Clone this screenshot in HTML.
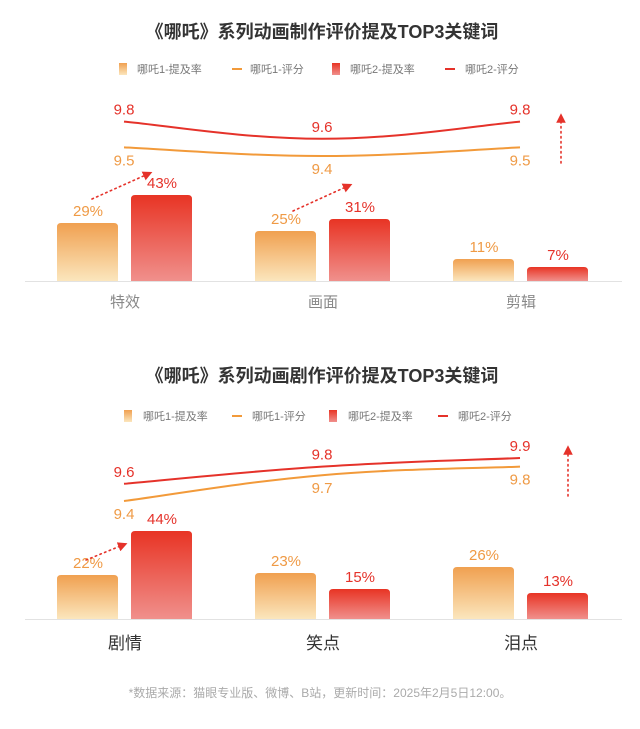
<!DOCTYPE html>
<html><head><meta charset="utf-8"><style>
html,body{margin:0;padding:0;background:#fff;}
svg{display:block;font-family:"Liberation Sans","Noto Sans CJK SC",sans-serif;}
</style></head><body>
<svg id="chart" width="640" height="729" viewBox="0 0 640 729" xmlns="http://www.w3.org/2000/svg">
<defs>
<linearGradient id="gO" x1="0" y1="0" x2="0" y2="1"><stop offset="0" stop-color="#f0a050"/><stop offset="1" stop-color="#fbe6bd"/></linearGradient>
<linearGradient id="gR" x1="0" y1="0" x2="0" y2="1"><stop offset="0" stop-color="#e83424"/><stop offset="1" stop-color="#f0908c"/></linearGradient>
<marker id="ah" viewBox="0 0 10 10" refX="5" refY="5" markerWidth="6" markerHeight="6" orient="auto"><path d="M0,0 L10,5 L0,10 z" fill="#e5322a"/></marker>
</defs>
</svg>
<script>
const cats1 = ["特效","画面","剪辑"];
const rate1a = [29,25,11];
const rate1b = [43,31,7];
const score1a = [9.5,9.4,9.5];
const score1b = [9.8,9.6,9.8];
const cats2 = ["剧情","笑点","泪点"];
const rate2a = [22,23,26];
const rate2b = [44,15,13];
const score2a = [9.4,9.7,9.8];
const score2b = [9.6,9.8,9.9];
const titles = ["《哪吒》系列动画制作评价提及TOP3关键词","《哪吒》系列动画剧作评价提及TOP3关键词"];
const legendLabels = ["哪吒1-提及率","哪吒1-评分","哪吒2-提及率","哪吒2-评分"];

const NS="http://www.w3.org/2000/svg";
const svg=document.getElementById('chart');
function mk(tag,attrs,parent){const e=document.createElementNS(NS,tag);for(const k in attrs)e.setAttribute(k,attrs[k]);(parent||svg).appendChild(e);return e;}
function txt(s,attrs,parent){const e=mk('text',attrs,parent);e.textContent=s;return e;}
const centers=[124,322,520];
function xC(i){return centers[i];}

function drawChart(ci,cfg){
  const g=mk('g',{});
  
  
  const t=txt(titles[ci],{x:322,y:cfg.titleY,'text-anchor':'middle','font-size':18,'font-weight':'bold',fill:'#333'},g);
  
  
  const lg=mk('g',{},g);
  
  
  const L=cfg.legend, ly=cfg.legendY;
  const k0=mk('rect',{x:L[0],y:ly-6,width:8,height:12,fill:'url(#gO)'},lg);
  
  
  const k1=mk('rect',{x:L[2],y:ly-1,width:10,height:2,fill:'#f29a3a'},lg);
  
  
  const k2=mk('rect',{x:L[4],y:ly-6,width:8,height:12,fill:'url(#gR)'},lg);
  
  
  const k3=mk('rect',{x:L[6],y:ly-1,width:10,height:2,fill:'#e5322a'},lg);
  
  
  for(let i=0;i<4;i++){
    const e=txt(legendLabels[i],{x:L[2*i+1],y:ly+4,'font-size':11,fill:'#777'},lg);
    
    
  }
  const ax=mk('line',{x1:25,x2:622,y1:cfg.base+0.5,y2:cfg.base+0.5,stroke:'#e2e2e2','stroke-width':1},g);
  
  
  const yB=v=>cfg.base-v*2.0;
  const yS=v=>cfg.s99+(9.9-v)*86;
  for(let i=0;i<cfg.cats.length;i++){
    const c=xC(i);
    const ha=cfg.base-yB(cfg.ra[i]);
    const hb=cfg.base-yB(cfg.rb[i]);
    const b1=mk('path',{d:barPath(c-67,yB(cfg.ra[i]),61,ha),fill:'url(#gO)'},g);
    
    
    const b2=mk('path',{d:barPath(c+7,yB(cfg.rb[i]),61,hb),fill:'url(#gR)'},g);
    
    
    const l1=txt(cfg.ra[i]+'%',{x:c-36,y:yB(cfg.ra[i])-7,'text-anchor':'middle','font-size':15,fill:'#ef9a45'},g);
    
    
    const l2=txt(cfg.rb[i]+'%',{x:c+38,y:yB(cfg.rb[i])-7,'text-anchor':'middle','font-size':15,fill:'#e5322a'},g);
    
    
    const cl=txt(cfg.cats[i],{x:c+1,y:cfg.catY,'text-anchor':'middle','font-size':cfg.catSize,fill:cfg.catColor},g);
    
    
  }
  const la=mk('path',{d:smooth(cfg.sa.map((v,i)=>[xC(i),yS(v)])),fill:'none',stroke:'#f29a3a','stroke-width':2},g);
  
  
  const lb=mk('path',{d:smooth(cfg.sb.map((v,i)=>[xC(i),yS(v)])),fill:'none',stroke:'#e5322a','stroke-width':2},g);
  
  
  for(let i=0;i<cfg.cats.length;i++){
    const a=txt(cfg.sa[i].toFixed(1),{x:xC(i),y:yS(cfg.sa[i])+18,'text-anchor':'middle','font-size':15,fill:'#ef9a45'},g);
    
    
    const b=txt(cfg.sb[i].toFixed(1),{x:xC(i),y:yS(cfg.sb[i])-7,'text-anchor':'middle','font-size':15,fill:'#e5322a'},g);
    
    
  }
  cfg.arrows.forEach(a=>{
    const e=mk('line',{x1:a[0],y1:a[1],x2:a[2],y2:a[3],stroke:'#e5322a','stroke-width':1.6,'stroke-dasharray':'1.5 3.5','stroke-linecap':'round','marker-end':'url(#ah)'},g);
    
    
  });
}
function barPath(x,y,w,h){const r=Math.min(4,h/2);return `M${x},${y+h}V${y+r}Q${x},${y} ${x+r},${y}H${x+w-r}Q${x+w},${y} ${x+w},${y+r}V${y+h}Z`;}
function smooth(p){let d=`M${p[0][0]},${p[0][1]}`;for(let i=0;i<p.length-1;i++){const p0=p[i-1]||p[i],p1=p[i],p2=p[i+1],p3=p[i+2]||p2;const t=0.2;d+=` C${p1[0]+(p2[0]-p0[0])*t},${p1[1]+(p2[1]-p0[1])*t} ${p2[0]-(p3[0]-p1[0])*t},${p2[1]-(p3[1]-p1[1])*t} ${p2[0]},${p2[1]}`;}return d;}

drawChart(0,{cats:cats1,ra:rate1a,rb:rate1b,sa:score1a,sb:score1b,titleY:38,legendY:69,legend:[119,137,232,250,332,350,445,465],base:281,s99:113,catY:307,catSize:15,catColor:'#888',arrows:[[92,199,148,174],[293,211,348,186],[561,163,561,118]]});
drawChart(1,{cats:cats2,ra:rate2a,rb:rate2b,sa:score2a,sb:score2b,titleY:382,legendY:416,legend:[124,143,232,252,329,348,438,458],base:619,s99:458,catY:649,catSize:17,catColor:'#333',arrows:[[86,560,123,545],[568,496,568,450]]});
const fn=txt('*数据来源：猫眼专业版、微博、B站，更新时间：2025年2月5日12:00。',{x:320,y:697,'text-anchor':'middle','font-size':12,fill:'#aaa'});


</script>
</body></html>
